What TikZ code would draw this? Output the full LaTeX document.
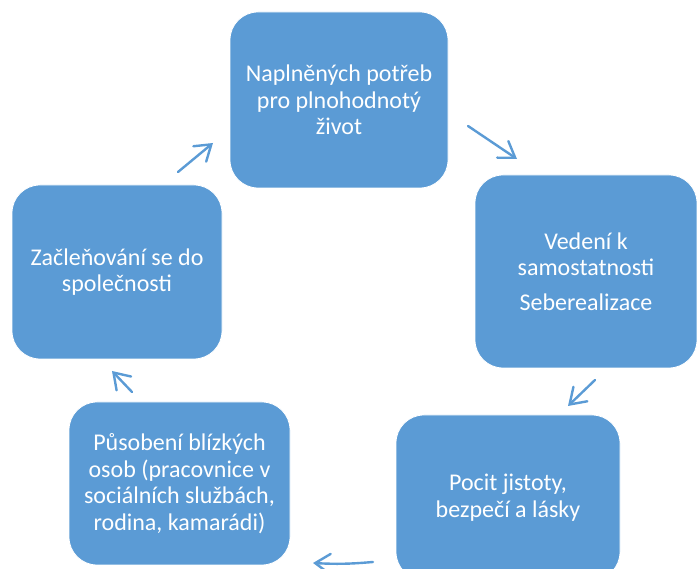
\documentclass[tikz,border=0pt]{standalone}
\usepackage{fontspec}
\setmainfont{Carlito}
\usepackage{tikz}
\definecolor{kastenblau}{RGB}{91, 155, 213}
\usetikzlibrary{arrows.meta}

\begin{document}
\begin{tikzpicture}[x=1pt, y=1pt,
				kasten/.style={draw=white, line width=0.8pt, fill=kastenblau, rounded corners=28pt,
					text=white, align=center, inner sep=0pt, font=\fontsize{24}{26.5}\selectfont},
				pfeil/.style={draw=kastenblau, line width=2.4pt, line cap=round,
					-{Straight Barb[length=15pt, width=20pt, line cap=round]}}]
				%Bildbereich
				\useasboundingbox (0,0) rectangle (697,569);
				\clip (0,0) rectangle (697,569);
				% Kaesten
				\node[kasten, minimum width=218, minimum height=176] (potreby) at (339,469)
					{Naplněných potřeb\\pro plnohodnotý\\život};
				\node[kasten, minimum width=222, minimum height=193] (vedeni) at (586,297.5)
					{Vedení k\\samostatnosti\\[8pt]Seberealizace};
				\node[kasten, minimum width=224, minimum height=165] (jistota) at (508,71.5)
					{Pocit jistoty,\\bezpečí a lásky};
				\node[kasten, minimum width=221, minimum height=163] (blizci) at (179.5,85.5)
					{Působení blízkých\\osob (pracovnice v\\sociálních službách,\\rodina, kamarádi)};
				\node[kasten, minimum width=210, minimum height=174] (zacleneni) at (117,297)
					{Začleňování se do\\společnosti};
				% Pfeilenden
				\coordinate (p1a) at (468,443); \coordinate (p1b) at (517,410);
				\coordinate (p2a) at (595,189); \coordinate (p2b) at (568,163);
				\coordinate (p3a) at (373,7);   \coordinate (p3b) at (313,6);
				\coordinate (p4a) at (132,177); \coordinate (p4b) at (112,198);
				\coordinate (p5a) at (178,397); \coordinate (p5b) at (213,426);
				% Pfeile zeichnen
				\draw[pfeil] (p1a) -- (p1b);
				\draw[pfeil] (p2a) -- (p2b);
				\draw[pfeil] (p3a) to[bend left=4] (p3b);
				\draw[pfeil] (p4a) -- (p4b);
				\draw[pfeil] (p5a) -- (p5b);
			\end{tikzpicture}
\end{document}
